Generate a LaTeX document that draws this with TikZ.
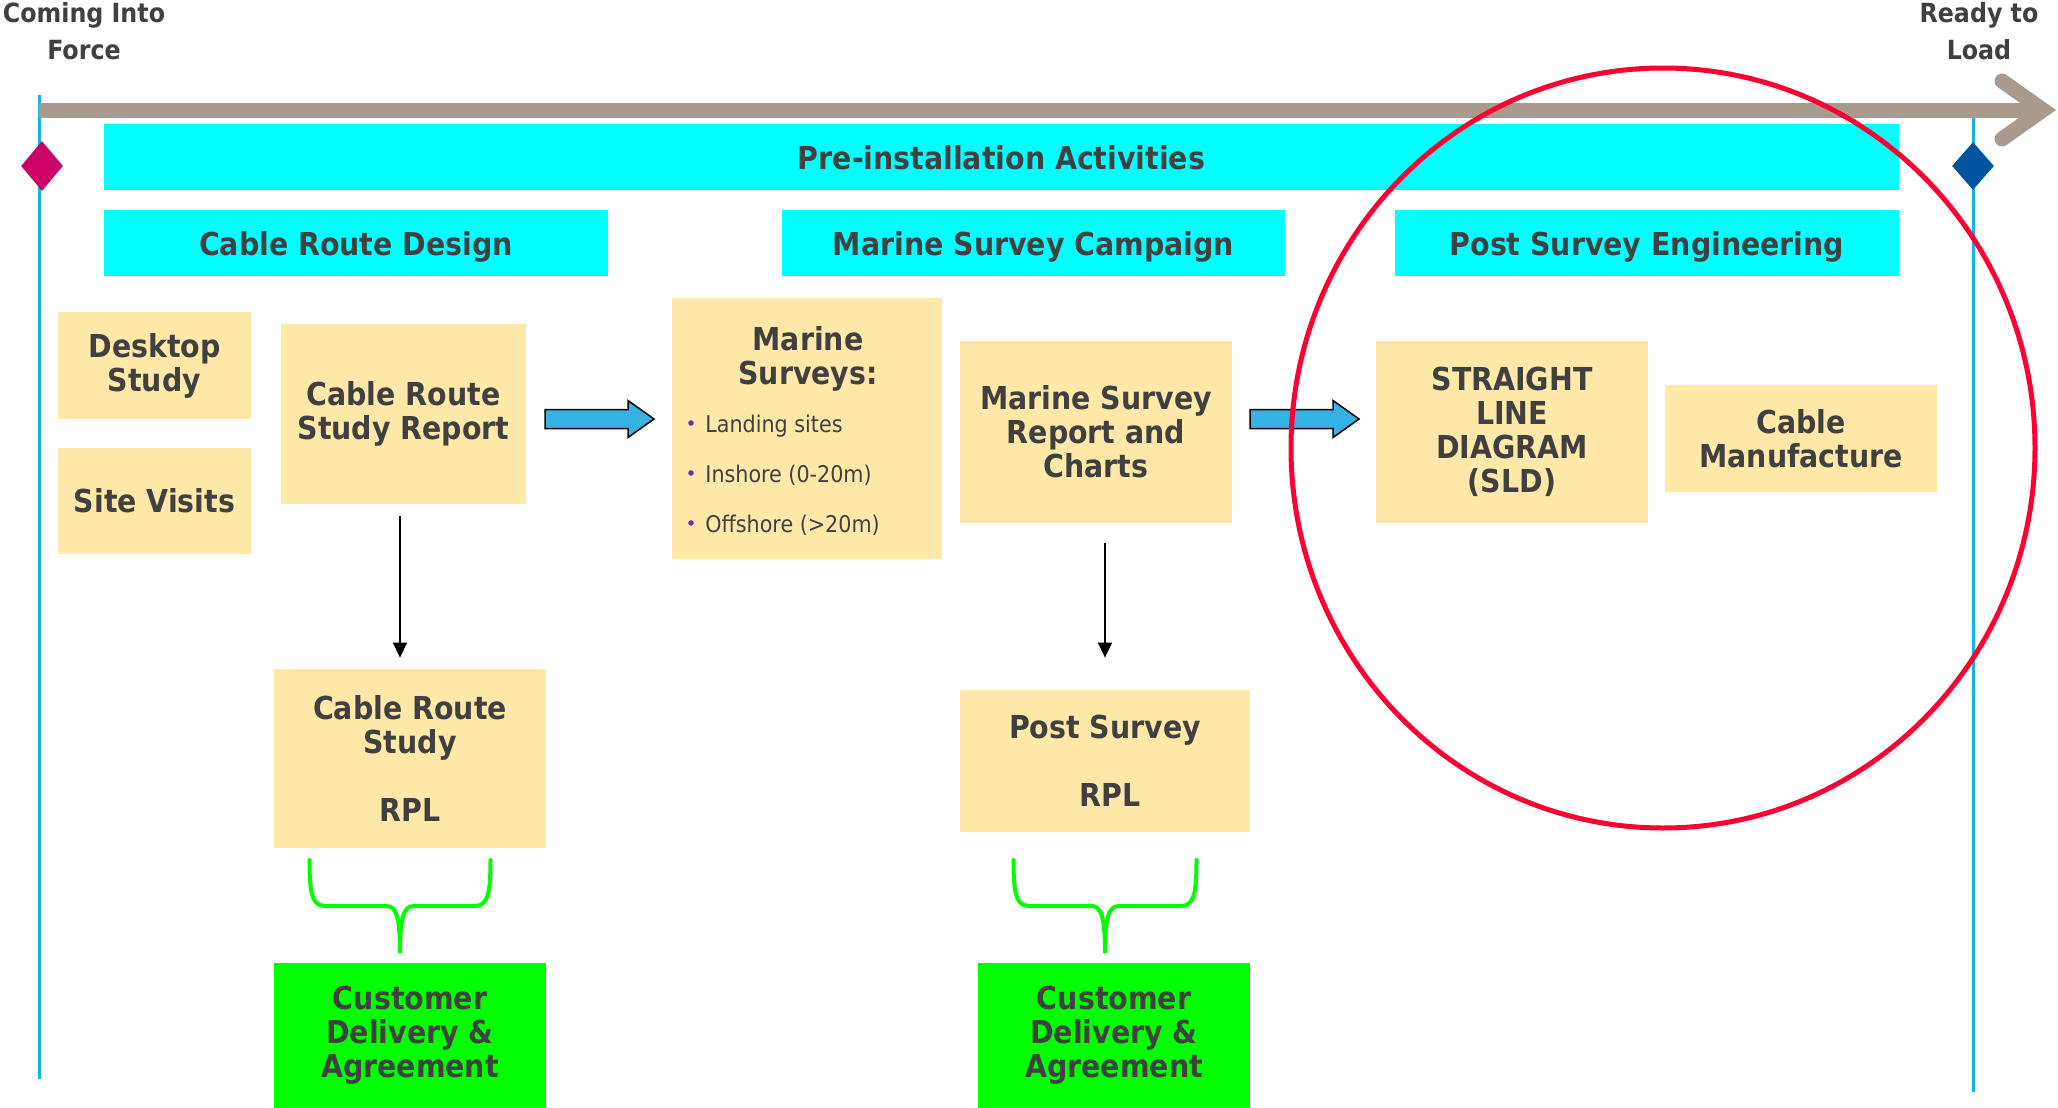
\documentclass[tikz,border=0pt]{standalone}
\usepackage{fontspec}
\setmainfont{DejaVu Sans Condensed}
\usepackage{xcolor}
\usepackage{tikz}
\usetikzlibrary{arrows.meta,shapes.geometric}

\definecolor{txtgrey}{HTML}{404040}
\definecolor{cyanbar}{HTML}{00FFFF}
\definecolor{boxyellow}{HTML}{FFE8A8}
\definecolor{boxgreen}{HTML}{00FF00}
\definecolor{tlgrey}{HTML}{A89B8D}
\definecolor{lineblue}{HTML}{12B4E2}
\definecolor{startmag}{HTML}{CC0066}
\definecolor{endblue}{HTML}{00549E}
\definecolor{arrblue}{HTML}{36B2E5}
\definecolor{ringred}{HTML}{FF0033}
\definecolor{bulletpurple}{HTML}{7030A0}

\begin{document}
\begin{tikzpicture}[x=0.5pt,y=-0.5pt,
		every node/.style={text=txtgrey, font=\bfseries\fontsize{15.8}{17}\selectfont, align=center, inner sep=0pt},
		headbar/.style={fill=cyanbar, minimum height=33pt, text height=12pt, text depth=0pt},
		yellowbox/.style={fill=boxyellow},
		greenbox/.style={fill=boxgreen, minimum width=136pt, minimum height=72.5pt},
		toplabel/.style={font=\bfseries\fontsize{13.2}{18.5}\selectfont},
		bullettext/.style={font=\mdseries\fontsize{11.5}{13}\selectfont},
		milestone/.style={diamond, minimum width=21pt, inner sep=0pt},
		downarr/.style={-{Triangle[length=7.5pt,width=7pt]}, line width=0.75pt},
		blockarr/.style={fill=arrblue, draw=black, line width=0.75pt, line join=miter},
		brace/.style={draw=boxgreen, line width=2pt, line cap=round}]
		\useasboundingbox (0,0) rectangle (2058,1108);

		\node[toplabel] (cif) at (84,31) {Coming Into\\Force};
		\node[toplabel] (rtl) at (1979,31) {Ready to\\Load};

		\draw[lineblue, line width=1.5pt] (39,95) -- (39,1079);
		\draw[lineblue, line width=1.5pt] (1973,117) -- (1973,1092);

		\coordinate (tstart) at (39,110);
		\coordinate (ttip) at (2043,110);
		\draw[tlgrey, line width=7.5pt] (tstart) -- (ttip);
		\draw[tlgrey, line width=7.5pt, line cap=round, line join=miter] (2002,81) -- (ttip) -- (2002,139);

		\node[milestone, fill=startmag, minimum height=25pt] (cifmark) at (42,166) {};
		\node[milestone, fill=endblue, minimum height=24pt] (rtlmark) at (1973,166) {};

		\node[headbar, minimum width=897.5pt] (pre) at (1001.5,157) {Pre-installation Activities};
		\node[headbar, minimum width=252pt] (crd) at (356,243) {Cable Route Design};
		\node[headbar, minimum width=251.5pt] (msc) at (1033.5,243) {Marine Survey Campaign};
		\node[headbar, minimum width=252pt] (pse) at (1647,243) {Post Survey Engineering};

		\node[yellowbox, minimum width=96.5pt, minimum height=53.5pt] (desk) at (154.5,365.5) {Desktop\\Study};
		\node[yellowbox, minimum width=96.5pt, minimum height=53pt] (site) at (154.5,501) {Site Visits};
		\node[yellowbox, minimum width=122.5pt, minimum height=90pt] (crsr) at (403.5,414) {Cable Route\\Study Report};
		\node[yellowbox, minimum width=135pt, minimum height=130.5pt] (ms) at (807,428.5) {};
		\node (mshead) at (808,359) {Marine\\Surveys:};
		\foreach \t [count=\i] in {Landing sites, Inshore (0-20m), Offshore (>20m)} {
			\fill[bulletpurple] (691,{373+50*\i}) circle (1.4pt);
			\node[bullettext, anchor=base west] (msb\i) at (705,{382+50*\i}) {\t};
		}
		\node[yellowbox, minimum width=136pt, minimum height=91pt] (msr) at (1096,432) {Marine Survey\\Report and\\Charts};
		\node[yellowbox, minimum width=136pt, minimum height=91pt] (sld) at (1512,432) {STRAIGHT\\LINE\\DIAGRAM\\(SLD)};
		\node[yellowbox, minimum width=136pt, minimum height=53.5pt] (cman) at (1801,438.5) {Cable\\Manufacture};

		\node[yellowbox, minimum width=136pt, minimum height=89.5pt] (crs) at (410,758.5) {Cable Route\\Study\\[17pt]RPL};
		\node[yellowbox, minimum width=145pt, minimum height=71pt] (psr) at (1105,761) {Post Survey\\[17pt]\hspace*{5pt}RPL};
		\node[greenbox] (cda1) at (410,1035.5) {Customer\\Delivery \&\\Agreement};
		\node[greenbox] (cda2) at (1114,1035.5) {Customer\\Delivery \&\\Agreement};

		\foreach \sx in {545,1250}
			\draw[blockarr] (\sx,409.5) -- ++(83,0) -- ++(0,-9) -- ++(26,18.5) -- ++(-26,18.5) -- ++(0,-9) -- ++(-83,0) -- cycle;

		\draw[downarr, shorten <=6pt, shorten >=5.5pt] ([xshift=-1.75pt]crsr.south) -- ([xshift=-5pt]crs.north);
		\draw[downarr, shorten <=10pt, shorten >=16pt] (psr.north |- msr.south) -- (psr.north);

		\foreach \c/\w in {400/90.5, 1105/91.5}
			\draw[brace] ({\c-\w},860) .. controls ({\c-\w},895) and ({\c-\w+3},906) .. ({\c-\w+16},906) -- ({\c-14},906)
				.. controls ({\c-4},906) and (\c,916) .. (\c,953)
				.. controls (\c,916) and ({\c+4},906) .. ({\c+14},906) -- ({\c+\w-16},906)
				.. controls ({\c+\w-3},906) and ({\c+\w},895) .. ({\c+\w},860);

		\draw[ringred, line width=2.5pt] (1663,448) ellipse [x radius=186pt, y radius=190pt];
	\end{tikzpicture}
\end{document}
